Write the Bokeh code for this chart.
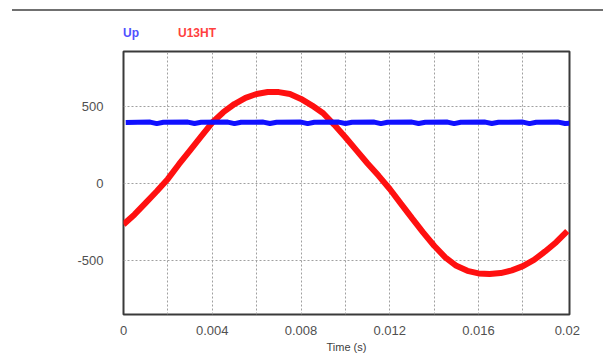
from bokeh.plotting import figure
from bokeh.models import Range1d, FixedTicker, Div
from bokeh.layouts import column
from bokeh.embed import file_html
from bokeh.resources import INLINE

# U13HT (red) samples, time in s, value in V
u13_t = [0.0, 0.0005, 0.001, 0.0015, 0.002, 0.0025, 0.003, 0.0035, 0.004, 0.0045,
         0.005, 0.0055, 0.006, 0.0065, 0.007, 0.0075, 0.008, 0.0085, 0.009, 0.0095,
         0.010, 0.0105, 0.011, 0.0115, 0.012, 0.0125, 0.013, 0.0135, 0.014, 0.0145,
         0.015, 0.0155, 0.016, 0.0165, 0.017, 0.0175, 0.018, 0.0185, 0.019, 0.0195, 0.020]
u13_v = [-265, -200, -125, -50, 30, 125, 215, 305, 395, 462,
         515, 555, 580, 593, 592, 580, 548, 505, 455, 380,
         300, 215, 130, 50, -35, -130, -224, -316, -403, -478,
         -533, -565, -582, -586, -580, -562, -535, -495, -440, -380, -308]

# Up (blue) samples: steady level with small periodic notches
up_t = [0.0001, 0.0012, 0.0015, 0.0018, 0.0029, 0.0032, 0.0035, 0.0047, 0.0050, 0.0053,
        0.0063, 0.0066, 0.0069, 0.0080, 0.0083, 0.0086, 0.0097, 0.0100, 0.0103,
        0.0113, 0.0116, 0.0119, 0.0130, 0.0133, 0.0136, 0.0146, 0.0149, 0.0152,
        0.0163, 0.0166, 0.0169, 0.0180, 0.0183, 0.0186, 0.0196, 0.0199, 0.0201]
up_v = [395, 398, 388, 397, 398, 389, 397, 398, 388, 397,
        398, 389, 397, 398, 388, 397, 398, 389, 397,
        398, 388, 397, 398, 389, 397, 398, 388, 397,
        398, 389, 397, 398, 388, 397, 398, 389, 391]

x_ticks = [0, 0.004, 0.008, 0.012, 0.016, 0.02]
x_labels = {0: "0", 0.004: "0.004", 0.008: "0.008", 0.012: "0.012", 0.016: "0.016", 0.02: "0.02"}
x_grid = [0.002, 0.004, 0.006, 0.008, 0.010, 0.012, 0.014, 0.016, 0.018]
y_ticks = [-500, 0, 500]
y_labels = {-500: "-500", 0: "0", 500: "500"}
series_names = ["Up", "U13HT"]
series_colors = ["#5050ff", "#ff4040"]

p = figure(width=595, height=308, output_backend="svg", toolbar_location=None,
           x_range=Range1d(0, 0.0201), y_range=Range1d(-848, 855),
           min_border_left=123, min_border_right=26, min_border_top=4, min_border_bottom=37)

p.line(u13_t, u13_v, line_color="#ff1010", line_width=6)
p.line(up_t, up_v, line_color="#1010ff", line_width=5)

p.outline_line_color = "#3a3a3a"
p.outline_line_width = 2

for ax in (p.xaxis, p.yaxis):
    ax.axis_line_color = None
    ax.major_tick_line_color = None
    ax.minor_tick_line_color = None
    ax.major_label_text_font = "Liberation Sans"
    ax.major_label_text_font_size = "13px"
    ax.major_label_text_color = "#505050"

p.xaxis.ticker = FixedTicker(ticks=x_ticks)
p.xaxis.major_label_overrides = x_labels
p.xaxis.major_label_standoff = 5
p.xaxis.axis_label = "Time (s)"
p.xaxis.axis_label_text_font = "Liberation Sans"
p.xaxis.axis_label_text_font_size = "11px"
p.xaxis.axis_label_text_font_style = "normal"
p.xaxis.axis_label_text_color = "#404040"
p.xaxis.axis_label_standoff = 3

p.yaxis.ticker = FixedTicker(ticks=y_ticks)
p.yaxis.major_label_overrides = y_labels
p.yaxis.major_label_standoff = 14

p.xgrid.ticker = FixedTicker(ticks=x_grid)
p.ygrid.ticker = FixedTicker(ticks=y_ticks)
for g in (p.xgrid, p.ygrid):
    g.grid_line_color = "#a0a0a0"
    g.grid_line_dash = "2 2"
    g.grid_line_width = 1

header_html = (
    '<div style="position:relative;width:603px;height:37px;'
    'font-family:\'Liberation Sans\';font-size:12px;font-weight:bold;">'
    '<div style="position:absolute;left:7px;top:4px;width:596px;height:0;'
    'border-top:2px solid #707070;"></div>'
    f'<span style="position:absolute;left:118px;top:20px;color:{series_colors[0]};">{series_names[0]}</span>'
    f'<span style="position:absolute;left:173px;top:20px;color:{series_colors[1]};">{series_names[1]}</span>'
    '</div>'
)
top = Div(text=header_html, width=603, height=37)

layout = column(top, p, spacing=0)
open("out.html", "w").write(file_html(layout, INLINE))
